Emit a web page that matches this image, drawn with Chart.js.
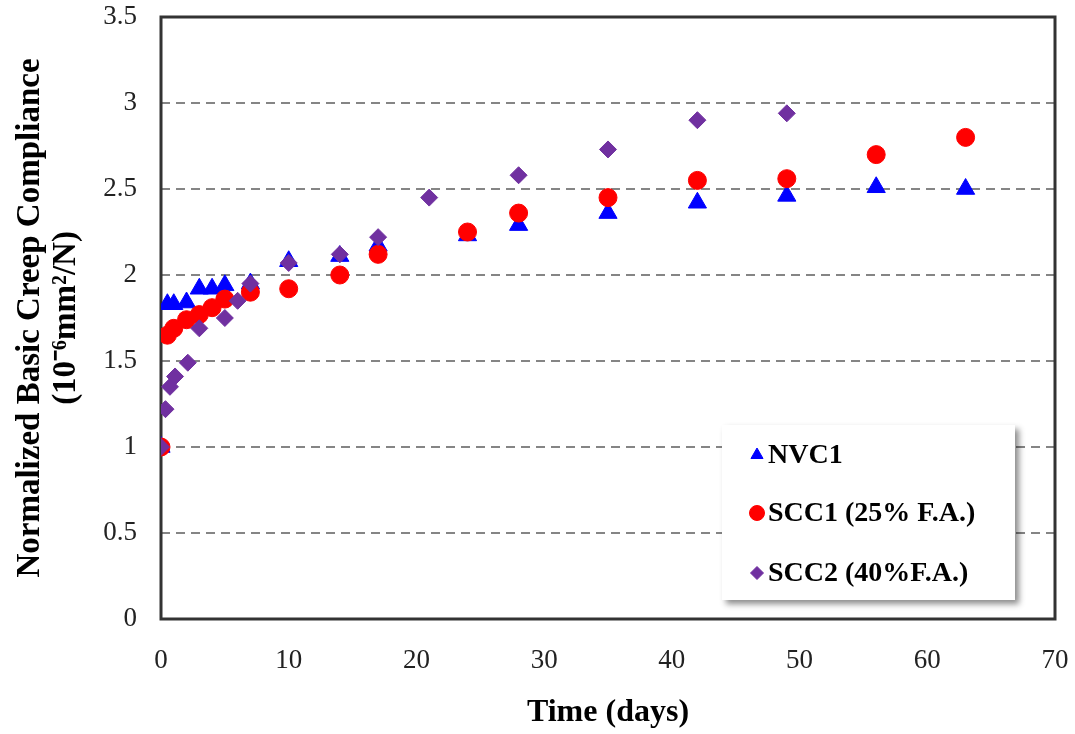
<!DOCTYPE html>
<html><head><meta charset="utf-8">
<script src="https://cdn.jsdelivr.net/npm/chart.js@4.4.1/dist/chart.umd.min.js"></script>
<style>html,body{margin:0;padding:0;background:#fff}#wrap{width:1075px;height:734px;position:relative}canvas{display:block}</style>
</head><body><div id="wrap"><canvas id="c" width="1075" height="734"></canvas></div>
<script>
const seriesNames = ['NVC1', 'SCC1 (25% F.A.)', 'SCC2 (40%F.A.)'];

const nvc1Days   = [0, 0.5, 1, 2, 3, 4, 5, 7, 10, 14, 17, 24, 28, 35, 42, 49, 56, 63];
const nvc1Values = [1.00, 1.83, 1.83, 1.84, 1.92, 1.92, 1.94, 1.95, 2.08, 2.11, 2.17, 2.23, 2.29, 2.36, 2.42, 2.46, 2.51, 2.50];

const scc1Days   = [0, 0.5, 1, 2, 3, 4, 5, 7, 10, 14, 17, 24, 28, 35, 42, 49, 56, 63];
const scc1Values = [1.00, 1.65, 1.69, 1.74, 1.77, 1.81, 1.86, 1.90, 1.92, 2.00, 2.12, 2.25, 2.36, 2.45, 2.55, 2.56, 2.70, 2.80];

const scc2Days   = [0, 0.35, 0.7, 1.1, 2.1, 3, 5, 6, 7, 10, 14, 17, 21, 28, 35, 42, 49];
const scc2Values = [1.00, 1.22, 1.35, 1.41, 1.49, 1.69, 1.75, 1.85, 1.95, 2.07, 2.12, 2.22, 2.45, 2.58, 2.73, 2.90, 2.94];

const xTickLabels = ['0', '10', '20', '30', '40', '50', '60', '70'];
const yTickLabels = ['0', '0.5', '1', '1.5', '2', '2.5', '3', '3.5'];

const xTitle = 'Time (days)';
const yTitle = ['Normalized Basic Creep Compliance', '(10\u207B\u2076mm\u00B2/N)'];

function pts(xs, ys) { return xs.map((x, i) => ({ x: x, y: ys[i] })); }

const SERIF = "'Liberation Serif', 'Times New Roman', serif";

function zeroPad(s) { s.paddingTop = 0; s.paddingBottom = 0; s.paddingLeft = 0; s.paddingRight = 0; }

const framePlugin = {
  id: 'frame',
  beforeDatasetsDraw(chart) {
    const { ctx, chartArea: a } = chart;
    ctx.save();
    ctx.strokeStyle = '#333333';
    ctx.lineWidth = 3;
    ctx.strokeRect(a.left, a.top, a.right - a.left, a.bottom - a.top);
    ctx.restore();
  }
};

const legendPlugin = {
  id: 'boxLegend',
  afterDraw(chart) {
    const { ctx } = chart;
    const bx = 722, by = 425, bw = 293, bh = 175;
    ctx.save();
    ctx.shadowColor = 'rgba(0,0,0,0.45)';
    ctx.shadowBlur = 6;
    ctx.shadowOffsetX = 4;
    ctx.shadowOffsetY = 4;
    ctx.fillStyle = '#ffffff';
    ctx.fillRect(bx, by, bw, bh);
    ctx.restore();
    const rows = [455, 513, 573];
    const sizes = [7, 7.5, 6.5];
    ctx.save();
    chart.data.datasets.forEach((ds, i) => {
      const y = rows[i];
      ctx.fillStyle = ds.backgroundColor;
      ctx.strokeStyle = ds.borderColor;
      ctx.lineWidth = 1;
      Chart.helpers.drawPoint(ctx, { pointStyle: ds.pointStyle, radius: sizes[i], rotation: 0, borderWidth: 1 }, 757, y);
      ctx.fillStyle = '#000';
      ctx.font = "bold 28px " + SERIF;
      ctx.textBaseline = 'middle';
      ctx.textAlign = 'left';
      ctx.fillText(ds.label, 768, y + 1);
    });
    ctx.restore();
  }
};

new Chart(document.getElementById('c'), {
  type: 'scatter',
  data: {
    datasets: [
      { label: seriesNames[0], data: pts(nvc1Days, nvc1Values), pointStyle: 'triangle', pointRadius: 10.5,
        backgroundColor: '#0000ff', borderColor: '#0000ff', borderWidth: 1, order: 2 },
      { label: seriesNames[1], data: pts(scc1Days, scc1Values), pointStyle: 'circle', pointRadius: 9,
        backgroundColor: '#ff0000', borderColor: '#ff0000', borderWidth: 1, order: 1 },
      { label: seriesNames[2], data: pts(scc2Days, scc2Values), pointStyle: 'rectRot', pointRadius: 8.5,
        backgroundColor: '#7030a0', borderColor: '#7030a0', borderWidth: 1, order: 0 }
    ]
  },
  options: {
    responsive: false,
    animation: false,
    devicePixelRatio: 1,
    layout: { padding: { left: 0, top: 17, right: 20, bottom: 0 } },
    plugins: { legend: { display: false }, tooltip: { enabled: false } },
    events: [],
    scales: {
      x: {
        type: 'linear', min: 0, max: 70,
        afterFit(s) { s.height = 115; zeroPad(s); },
        ticks: {
          stepSize: 10, padding: 26, color: '#222222', maxRotation: 0, autoSkip: false,
          font: { family: SERIF, size: 27 },
          callback: (v, i) => xTickLabels[i]
        },
        grid: { display: false, drawTicks: false },
        border: { display: false },
        title: { display: true, text: xTitle, color: '#000', padding: { top: 0, bottom: 2 },
                 font: { family: SERIF, size: 32, weight: 'bold' } }
      },
      y: {
        type: 'linear', min: 0, max: 3.5,
        afterFit(s) { s.width = 161; zeroPad(s); },
        ticks: {
          stepSize: 0.5, padding: 24, color: '#222222', autoSkip: false,
          font: { family: SERIF, size: 27 },
          callback: (v, i) => yTickLabels[i]
        },
        grid: {
          drawTicks: false, lineWidth: 2,
          color: (c) => (c.index === 0 || c.index === yTickLabels.length - 1) ? 'rgba(0,0,0,0)' : '#858585'
        },
        border: { display: false, dash: [9, 6] },
        title: { display: true, text: yTitle, color: '#000', padding: { top: 12, bottom: 0 },
                 font: { family: SERIF, size: 33, weight: 'bold', lineHeight: 1.1 } }
      }
    }
  },
  plugins: [framePlugin, legendPlugin]
});
</script>
</body></html>
